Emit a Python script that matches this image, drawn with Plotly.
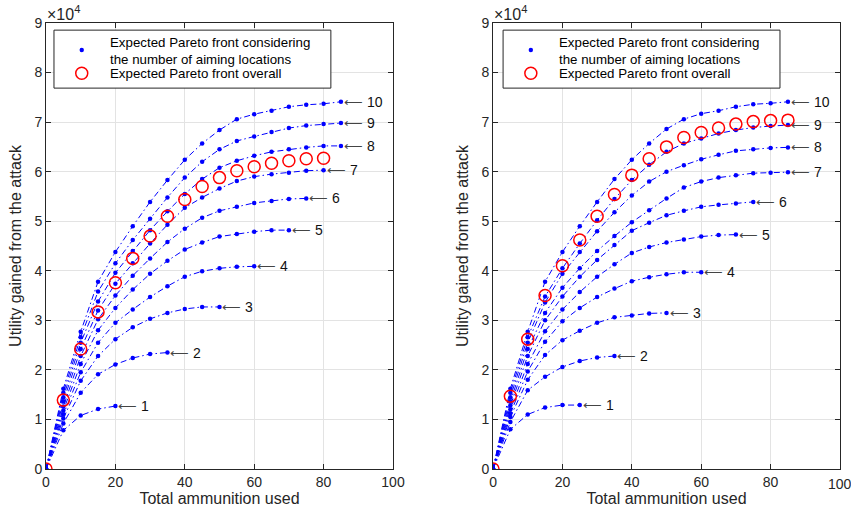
import plotly.graph_objects as go

# Total ammunition grid (each front is sampled every 5 rounds)
AMMO = [0, 5, 10, 15, 20, 25, 30, 35, 40, 45, 50, 55, 60, 65, 70, 75, 80, 85]

# Utility (x 10^4) of the expected Pareto front for 1..10 aiming locations -- left case
L1 = [0, 0.78, 1.08, 1.21, 1.27]
L2 = [0, 0.92, 1.54, 1.91, 2.11, 2.24, 2.32, 2.35]
L3 = [0, 1.02, 1.78, 2.28, 2.62, 2.86, 3.03, 3.15, 3.23, 3.27, 3.27]
L4 = [0, 1.10, 1.95, 2.55, 2.95, 3.22, 3.47, 3.69, 3.88, 3.99, 4.05, 4.08, 4.09]
L5 = [0, 1.18, 2.12, 2.80, 3.25, 3.62, 3.94, 4.20, 4.43, 4.57, 4.69, 4.74, 4.79, 4.82, 4.82]
L6 = [0, 1.26, 2.28, 3.02, 3.50, 3.90, 4.25, 4.58, 4.85, 5.07, 5.21, 5.29, 5.37, 5.41, 5.45, 5.46]
L7 = [0, 1.36, 2.42, 3.20, 3.74, 4.15, 4.55, 4.93, 5.27, 5.48, 5.66, 5.81, 5.90, 5.95, 5.98, 6.02, 6.03]
L8 = [0, 1.45, 2.55, 3.38, 3.96, 4.40, 4.82, 5.20, 5.55, 5.85, 6.08, 6.22, 6.32, 6.40, 6.45, 6.49, 6.52, 6.52]
L9 = [0, 1.54, 2.66, 3.58, 4.15, 4.62, 5.05, 5.48, 5.88, 6.20, 6.45, 6.62, 6.71, 6.80, 6.88, 6.93, 6.96, 6.98]
L10 = [0, 1.62, 2.77, 3.78, 4.38, 4.90, 5.39, 5.83, 6.24, 6.57, 6.84, 7.06, 7.16, 7.23, 7.31, 7.35, 7.37, 7.41]
LEFT_OVERALL = [0, 1.39, 2.42, 3.17, 3.76, 4.25, 4.70, 5.10, 5.44, 5.70, 5.88, 6.02,
                6.10, 6.17, 6.22, 6.26, 6.27]

# Utility (x 10^4) of the expected Pareto front for 1..10 aiming locations -- right case
R1 = [0, 0.80, 1.10, 1.24, 1.29, 1.29]
R2 = [0, 0.95, 1.59, 1.86, 2.06, 2.18, 2.25, 2.28]
R3 = [0, 1.05, 1.80, 2.30, 2.60, 2.79, 2.95, 3.06, 3.10, 3.14, 3.15]
R4 = [0, 1.12, 1.97, 2.57, 2.98, 3.25, 3.47, 3.64, 3.79, 3.87, 3.93, 3.97, 3.97]
R5 = [0, 1.20, 2.12, 2.78, 3.22, 3.57, 3.88, 4.13, 4.36, 4.48, 4.57, 4.63, 4.69, 4.72, 4.73]
R6 = [0, 1.28, 2.28, 3.00, 3.48, 3.88, 4.22, 4.52, 4.81, 4.97, 5.12, 5.21, 5.29, 5.33, 5.36, 5.39]
R7 = [0, 1.36, 2.42, 3.15, 3.66, 4.05, 4.40, 4.70, 4.98, 5.22, 5.46, 5.68, 5.80, 5.88, 5.93,
      5.97, 5.98, 5.99]
R8 = [0, 1.45, 2.55, 3.36, 3.94, 4.38, 4.80, 5.18, 5.52, 5.80, 6.00, 6.13, 6.25, 6.34, 6.42,
      6.45, 6.48, 6.49]
R9 = [0, 1.54, 2.66, 3.48, 4.05, 4.55, 5.02, 5.45, 5.83, 6.14, 6.40, 6.57, 6.67, 6.77, 6.84,
      6.89, 6.92, 6.94]
R10 = [0, 1.62, 2.77, 3.78, 4.38, 4.90, 5.39, 5.85, 6.24, 6.57, 6.86, 7.06, 7.17, 7.23, 7.31,
       7.36, 7.38, 7.41]
RIGHT_OVERALL = [0, 1.47, 2.62, 3.50, 4.10, 4.62, 5.10, 5.54, 5.93, 6.26, 6.50, 6.69, 6.79,
                 6.88, 6.96, 7.01, 7.03, 7.04]

X_TICKS = [0, 20, 40, 60, 80, 100]
Y_TICKS = [0, 1, 2, 3, 4, 5, 6, 7, 8, 9]

BLUE = "#0000ff"
RED = "#ff0000"
INK = "#262626"
FONT = "Liberation Sans, Arial, Helvetica, sans-serif"
LEGEND_LINES = ["Expected Pareto front considering", "the number of aiming locations"]
OVERALL_NAME = "Expected Pareto front overall"

panels = [
    ("x", "y", 0.000, [L1, L2, L3, L4, L5, L6, L7, L8, L9, L10], LEFT_OVERALL),
    ("x2", "y2", 0.006, [R1, R2, R3, R4, R5, R6, R7, R8, R9, R10], RIGHT_OVERALL),
]

fig = go.Figure()
shapes = []

for xa, ya, dx, fronts, overall in panels:
    for k, vals in enumerate(fronts, start=1):
        xs = AMMO[:len(vals)]
        fig.add_trace(go.Scatter(
            x=xs, y=vals, mode="lines+markers",
            line=dict(color=BLUE, width=1, dash="6px,3px,1.5px,3px"),
            marker=dict(color=BLUE, size=4.5),
            showlegend=False, xaxis=xa, yaxis=ya, hoverinfo="skip",
        ))
        # "<- k" tag at the end of each front
        fig.add_annotation(
            x=xs[-1], y=vals[-1], xref=xa, yref=ya,
            text=f"<span style='font-size:13px;color:#444444'>\u27f5</span> {k}",
            showarrow=False, xanchor="left", yanchor="middle", xshift=1,
            font=dict(family=FONT, size=14, color="#111111"),
        )
    fig.add_trace(go.Scatter(
        x=AMMO[:len(overall)], y=overall, mode="markers", name=OVERALL_NAME,
        marker=dict(symbol="circle-open", color=RED, size=12, line=dict(width=1.5, color=RED)),
        xaxis=xa, yaxis=ya, showlegend=False, hoverinfo="skip",
    ))
    # exponent label above the y axis
    fig.add_annotation(
        x=0, y=1, xref=f"{xa} domain", yref=f"{ya} domain", text="\u00d710<sup>4</sup>",
        showarrow=False, xanchor="left", yanchor="bottom", xshift=-1, yshift=-2,
        font=dict(family=FONT, size=16, color=INK),
    )

    # legend box drawn inside the axes
    xd, yd = f"{xa} domain", f"{ya} domain"
    shapes.append(dict(type="rect", xref=xd, yref=yd, x0=0.023 + dx, x1=0.821 + dx,
                       y0=0.854, y1=0.984, line=dict(color=INK, width=1),
                       fillcolor="white", layer="above"))
    shapes.append(dict(type="circle", xref=xd, yref=yd, xsizemode="pixel", ysizemode="pixel",
                       xanchor=0.103 + dx, yanchor=0.9395, x0=-2.2, x1=2.2, y0=-2.2, y1=2.2,
                       fillcolor=BLUE, line=dict(color=BLUE, width=0), layer="above"))
    shapes.append(dict(type="circle", xref=xd, yref=yd, xsizemode="pixel", ysizemode="pixel",
                       xanchor=0.103 + dx, yanchor=0.8872, x0=-6, x1=6, y0=-6, y1=6,
                       line=dict(color=RED, width=1.5), layer="above"))
    for text, ypos in [(LEGEND_LINES[0], 0.9558), (LEGEND_LINES[1], 0.9186), (OVERALL_NAME, 0.8857)]:
        fig.add_annotation(
            x=0.1795 + dx, y=ypos, xref=xd, yref=yd, text=text, showarrow=False,
            xanchor="left", yanchor="middle", font=dict(family=FONT, size=13.3, color="#000000"),
        )

# the last x tick label of the right panel sits against the page edge, so it is
# written as a note below the axis instead of as a regular tick label
fig.add_annotation(
    x=X_TICKS[-1], y=0, xref="x2", yref="y2 domain", text=str(X_TICKS[-1]),
    showarrow=False, xanchor="center", yanchor="middle", yshift=-15,
    font=dict(family=FONT, size=14, color=INK),
)

axis_common = dict(
    showline=True, linecolor=INK, linewidth=1, mirror="ticks",
    ticks="inside", ticklen=5, tickcolor=INK, tickwidth=1,
    showgrid=True, gridcolor="#e3e3e3", gridwidth=1, zeroline=False, automargin=False,
    tickfont=dict(family=FONT, size=14, color=INK),
)

x_common = dict(axis_common, range=[0, 100], tickvals=X_TICKS,
                title=dict(text="Total ammunition used", standoff=3,
                           font=dict(family=FONT, size=16, color=INK)))
y_common = dict(axis_common, range=[0, 9], tickvals=Y_TICKS,
                title=dict(text="Utility gained from the attack", standoff=8,
                           font=dict(family=FONT, size=16, color=INK)))

right_ticktext = [str(v) for v in X_TICKS[:-1]] + [""]

fig.update_layout(
    width=851, height=518,
    margin=dict(l=46, r=11, t=23, b=49),
    paper_bgcolor="white", plot_bgcolor="white",
    font=dict(family=FONT, color=INK),
    showlegend=False,
    xaxis=dict(x_common, domain=[0, 0.437], anchor="y"),
    yaxis=dict(y_common, domain=[0, 1], anchor="x"),
    xaxis2=dict(x_common, domain=[0.563, 1], anchor="y2", ticktext=right_ticktext),
    yaxis2=dict(y_common, domain=[0, 1], anchor="x2"),
    shapes=shapes,
)

fig.write_html("out.html")
